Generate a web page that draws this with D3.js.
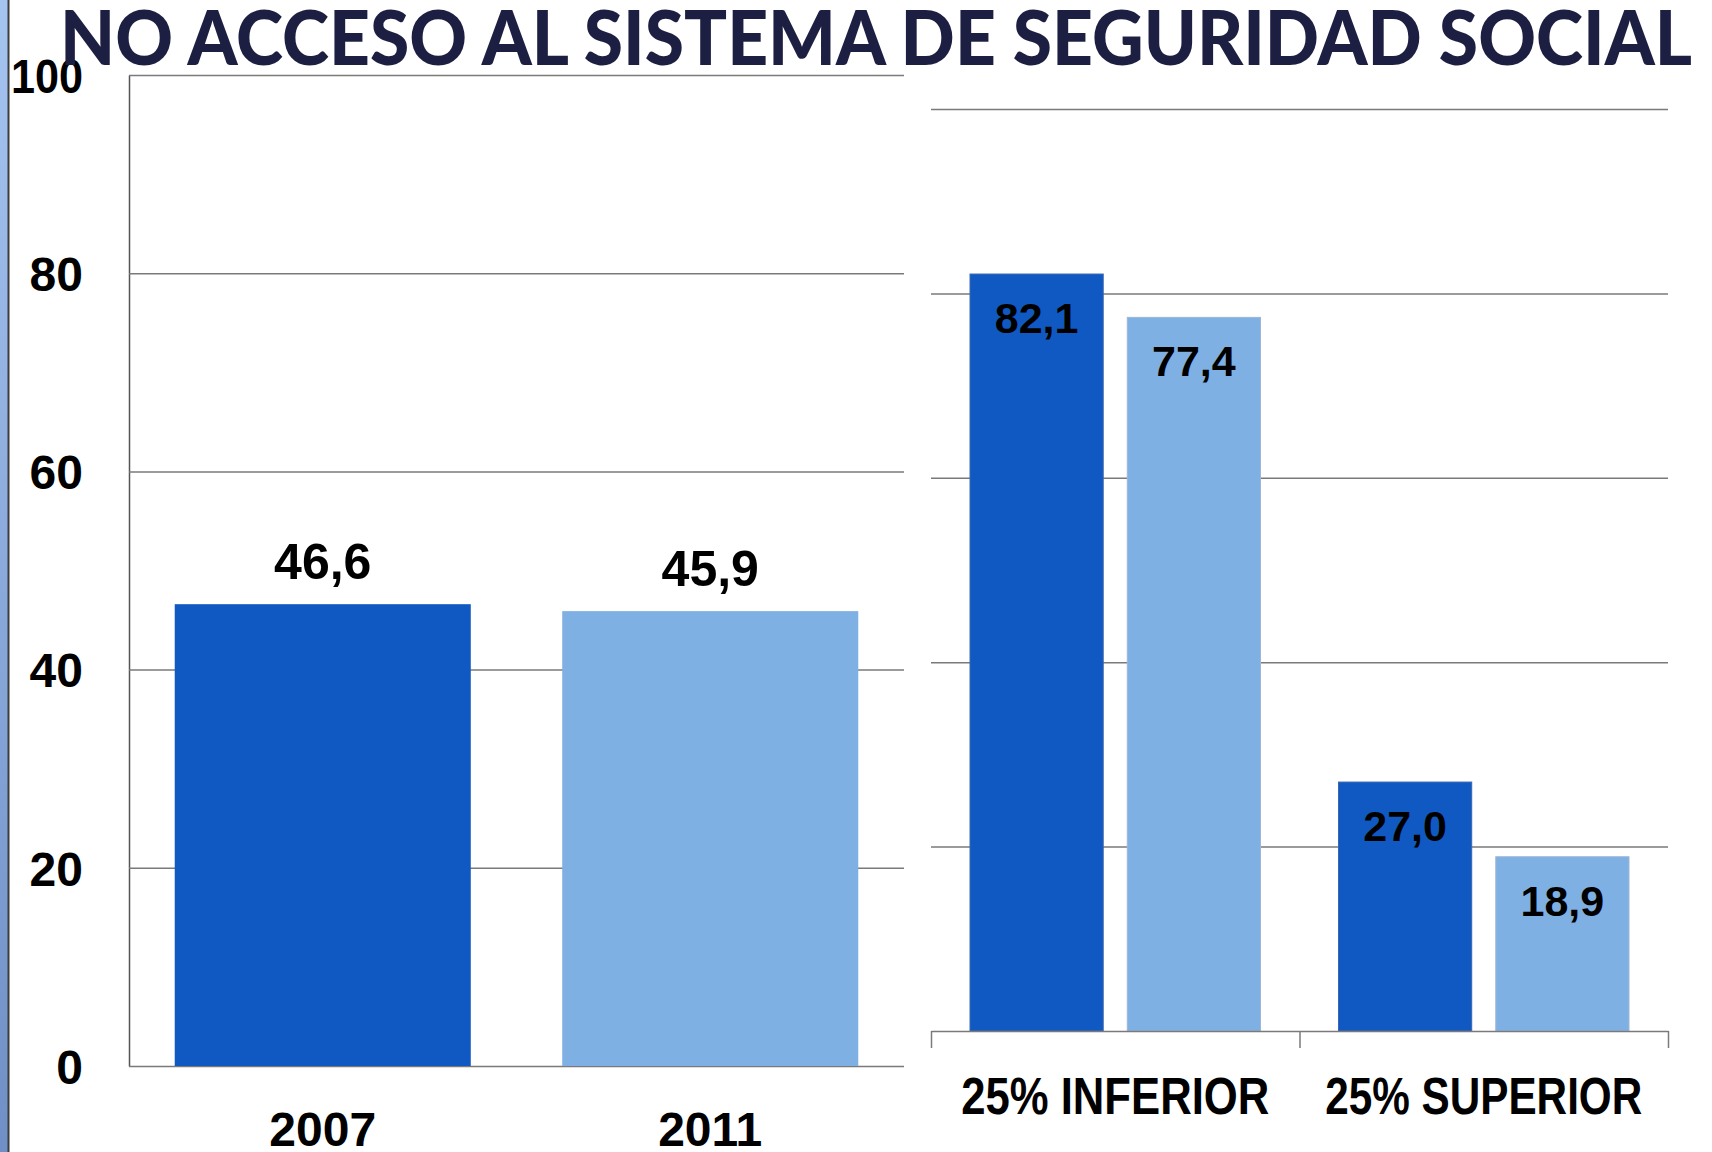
<!DOCTYPE html>
<html>
<head>
<meta charset="utf-8">
<script src="https://cdn.jsdelivr.net/npm/d3@7"></script>
<style>
html,body{margin:0;padding:0;background:#fff;}
svg{display:block;}
</style>
</head>
<body>
<script>
// ---- Data ----
const titleText = "NO ACCESO AL SISTEMA DE SEGURIDAD SOCIAL";
const leftCategories = ["2007", "2011"];
const leftValues = [46.6, 45.9];
const rightCategories = ["25% INFERIOR", "25% SUPERIOR"];
const rightSeries = ["2007", "2011"];
const rightValues2007 = [82.1, 27.0];
const rightValues2011 = [77.4, 18.9];
const yTickValues = [0, 20, 40, 60, 80, 100];
const seriesColors = ["#1059c2", "#7fb0e4"];

const W = 1712, H = 1152;
const svg = d3.select("body").append("svg").attr("width", W).attr("height", H);

const fmt = v => d3.format(".1f")(v).replace(".", ",");

// left decorative strip
const defs = svg.append("defs");
const lg = defs.append("linearGradient").attr("id", "strip").attr("x1", 0).attr("y1", 0).attr("x2", 0).attr("y2", 1);
lg.append("stop").attr("offset", "0%").attr("stop-color", "#a6c4f0");
lg.append("stop").attr("offset", "100%").attr("stop-color", "#6f8fc6");
svg.append("rect").attr("x", 0).attr("y", 0).attr("width", 8).attr("height", H).attr("fill", "url(#strip)");
svg.append("line").attr("x1", 8.5).attr("x2", 8.5).attr("y1", 0).attr("y2", H).attr("stroke", "#3c3c3c").attr("stroke-width", 2);

// ---- Left chart ----
const L = {x0: 129, x1: 904, yTop: 75, yBot: 1066};
const xL = d3.scaleBand().domain(leftCategories).range([L.x0, L.x1]).paddingInner(0.236).paddingOuter(0.118);
const yL = d3.scaleLinear().domain([0, 100]).range([L.yBot, L.yTop]);

const axL = svg.append("g").attr("transform", `translate(${L.x0},0)`)
  .call(d3.axisLeft(yL).tickValues(yTickValues).tickSize(-(L.x1 - L.x0)).tickSizeOuter(0).tickPadding(46).tickFormat(d3.format("d")));
axL.select(".domain").attr("stroke", "#555").attr("stroke-width", 1.5);
axL.selectAll(".tick line").attr("stroke", "#7a7a7a").attr("stroke-width", 1.5);
axL.selectAll(".tick text").attr("font-family", "'Liberation Sans', Arial, sans-serif").attr("font-weight", "bold")
  .attr("font-size", 48).attr("fill", "#000").attr("dy", "0.36em")
  .attr("textLength", d => d === 100 ? 72 : null).attr("lengthAdjust", "spacingAndGlyphs");

svg.append("g").selectAll("rect").data(leftCategories).join("rect")
  .attr("x", d => xL(d)).attr("width", xL.bandwidth())
  .attr("y", (d, i) => yL(leftValues[i])).attr("height", (d, i) => yL(0) - yL(leftValues[i]))
  .attr("fill", (d, i) => seriesColors[i]);

svg.append("g").selectAll("text").data(leftCategories).join("text")
  .attr("x", d => xL(d) + xL.bandwidth() / 2).attr("y", (d, i) => yL(leftValues[i]) - 25)
  .attr("text-anchor", "middle").attr("font-family", "'Liberation Sans', Arial, sans-serif").attr("font-weight", "bold")
  .attr("font-size", 50).attr("fill", "#000").text((d, i) => fmt(leftValues[i]));

svg.append("g").selectAll("text").data(leftCategories).join("text")
  .attr("x", d => xL(d) + xL.bandwidth() / 2).attr("y", yL(0) + 80)
  .attr("text-anchor", "middle").attr("font-family", "'Liberation Sans', Arial, sans-serif").attr("font-weight", "bold")
  .attr("font-size", 48).attr("fill", "#000").text(d => d);

// ---- Right chart ----
const R = {x0: 931, x1: 1668, yTop: 109, yBot: 1031};
const x0R = d3.scaleBand().domain(rightCategories).range([R.x0, R.x1]).padding(0);
const x1R = d3.scaleBand().domain(rightSeries).range([0, x0R.bandwidth()]).paddingInner(0.153).paddingOuter(0.248);
const yR = d3.scaleLinear().domain([0, 100]).range([R.yBot, R.yTop]);

const axR = svg.append("g").attr("transform", `translate(${R.x0},0)`)
  .call(d3.axisLeft(yR).tickValues(yTickValues.filter(v => v > 0)).tickSize(-(R.x1 - R.x0)).tickSizeOuter(0).tickFormat(""));
axR.select(".domain").remove();
axR.selectAll(".tick line").attr("stroke", "#7a7a7a").attr("stroke-width", 1.5);

const rightRows = rightCategories.map((c, i) => ({cat: c, vals: [rightValues2007[i], rightValues2011[i]]}));
const grp = svg.append("g").selectAll("g").data(rightRows).join("g")
  .attr("transform", d => `translate(${x0R(d.cat)},0)`);
grp.selectAll("rect").data(d => d.vals.map((v, j) => ({s: rightSeries[j], v, j}))).join("rect")
  .attr("x", d => x1R(d.s)).attr("width", x1R.bandwidth())
  .attr("y", d => yR(d.v)).attr("height", d => yR(0) - yR(d.v))
  .attr("fill", d => seriesColors[d.j]).attr("stroke", d => d.j ? "#9fb6d6" : "#3a66b0").attr("stroke-width", 1);
grp.selectAll("text").data(d => d.vals.map((v, j) => ({s: rightSeries[j], v, j}))).join("text")
  .attr("x", d => x1R(d.s) + x1R.bandwidth() / 2).attr("y", d => yR(d.v) + 59)
  .attr("text-anchor", "middle").attr("font-family", "'Liberation Sans', Arial, sans-serif").attr("font-weight", "bold")
  .attr("font-size", 43).attr("fill", "#000").text(d => fmt(d.v));

// baseline with category boundary ticks
const bx = d3.scaleLinear().domain([0, rightCategories.length]).range([R.x0, R.x1]);
const axB = svg.append("g").attr("transform", `translate(0,${yR(0)})`)
  .call(d3.axisBottom(bx).tickValues(d3.range(rightCategories.length + 1)).tickSize(17).tickSizeOuter(0).tickFormat(""));
axB.select(".domain").attr("stroke", "#7a7a7a").attr("stroke-width", 1.5);
axB.selectAll(".tick line").attr("stroke", "#7a7a7a").attr("stroke-width", 1.5);

svg.append("g").selectAll("text").data(rightCategories).join("text")
  .attr("x", d => x0R(d) + x0R.bandwidth() / 2).attr("y", yR(0) + 83)
  .attr("text-anchor", "middle").attr("font-family", "'Liberation Sans Narrow', 'Liberation Sans', Arial, sans-serif").attr("font-weight", "bold")
  .attr("font-size", 51).attr("fill", "#000")
  .attr("textLength", (d, i) => i === 0 ? 308 : 317).attr("lengthAdjust", "spacingAndGlyphs").text(d => d);

// ---- Title ----
svg.append("text").attr("x", 60).attr("y", 65).attr("font-family", "Lato, 'Open Sans', sans-serif").attr("font-weight", 900)
  .attr("font-size", 76).attr("fill", "#1d1f42").attr("textLength", 1632).attr("lengthAdjust", "spacingAndGlyphs").text(titleText);
</script>
</body>
</html>
